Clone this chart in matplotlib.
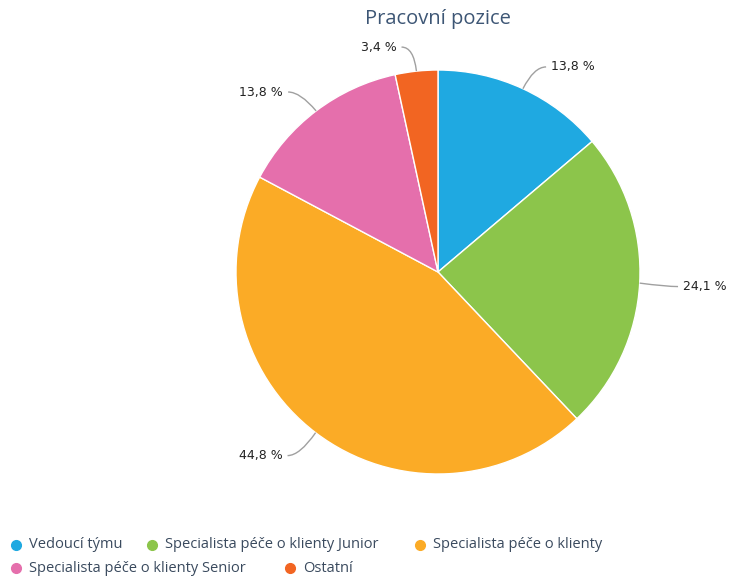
import matplotlib
matplotlib.use("Agg")
import matplotlib.pyplot as plt
import numpy as np
from matplotlib.path import Path
from matplotlib.patches import PathPatch
from matplotlib.lines import Line2D

categories = ["Vedoucí týmu", "Specialista péče o klienty Junior", "Specialista péče o klienty",
              "Specialista péče o klienty Senior", "Ostatní"]
values = [13.8, 24.1, 44.8, 13.8, 3.4]
colors = ["#1fa9e1", "#8cc54b", "#fbab26", "#e56fac", "#f26522"]
title = "Pracovní pozice"

W, H = 730, 577
fig = plt.figure(figsize=(W / 100, H / 100), dpi=100)
cx, cy, r = 438, 272, 202
ax = fig.add_axes([(cx - r) / W, (H - cy - r) / H, 2 * r / W, 2 * r / H])
wedges, _ = ax.pie(values, colors=colors, startangle=90, counterclock=False,
                   radius=1, wedgeprops=dict(edgecolor="white", linewidth=1))
ax.set_xlim(-1, 1)
ax.set_ylim(-1, 1)
ax.set_aspect("equal")
ax.axis("off")

for w, v in zip(wedges, values):
    mid = np.deg2rad((w.theta1 + w.theta2) / 2)
    c, s = np.cos(mid), np.sin(mid)
    sign = 1 if c >= 0 else -1
    p0 = (c * 1.0, s * 1.0)
    p1 = (c * 1.13, s * 1.13 - 0.01)
    p2 = (p1[0] + sign * 0.06, p1[1])
    path = Path([p0, p1, p2], [Path.MOVETO, Path.CURVE3, Path.CURVE3])
    ax.add_patch(PathPatch(path, fill=False, edgecolor="#a0a0a0", linewidth=1, clip_on=False))
    label = f"{v:.1f}".replace(".", ",") + " %"
    ax.text(p2[0] + sign * 0.025, p2[1], label, ha="left" if sign > 0 else "right",
            va="center", fontsize=9, color="#222222", family="DejaVu Sans", clip_on=False)

fig.text(cx / W, 1 - 19 / H, title, ha="center", va="center", fontsize=14.5,
         color="#3d5675", family="Open Sans")

legend_pos = [(16, 545), (152, 545), (420, 545), (16, 568), (290, 568)]
for (lx, ly), col, cat in zip(legend_pos, colors, categories):
    fig.add_artist(Line2D([lx / W], [1 - ly / H], marker="o", markersize=7, color=col,
                          linestyle="none", transform=fig.transFigure))
    fig.text((lx + 13) / W, 1 - ly / H, cat, ha="left", va="center", fontsize=10.5,
             color="#3a4a5e", family="Open Sans")

fig.savefig("out.png", dpi=100, facecolor="white")
